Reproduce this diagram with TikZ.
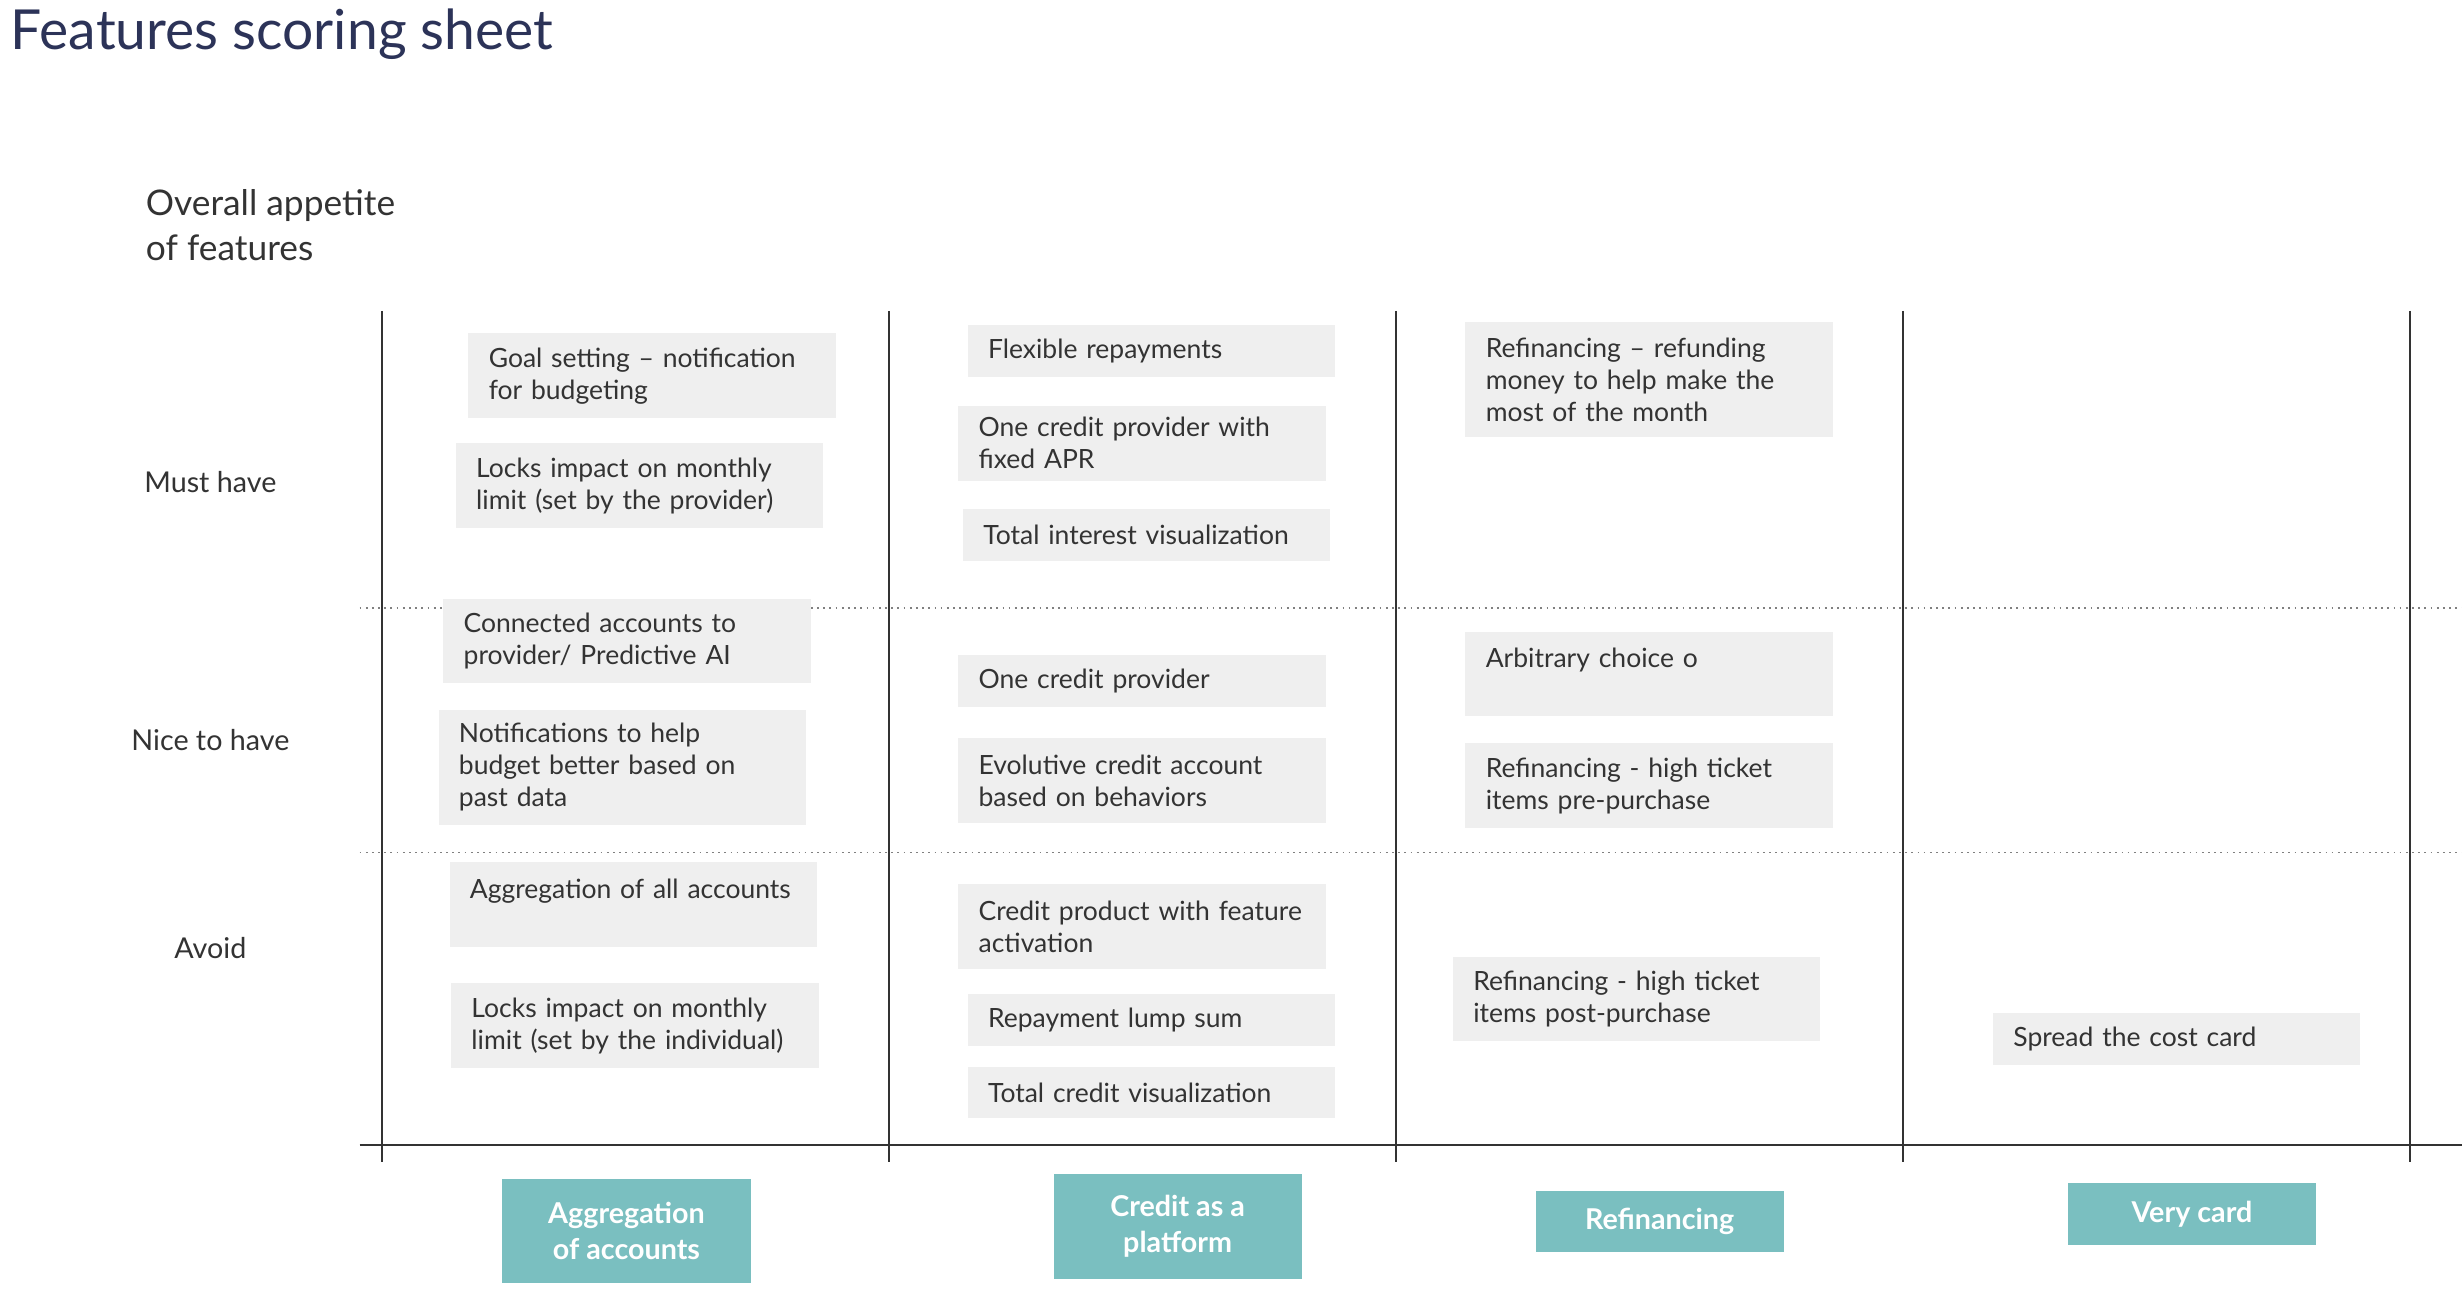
\documentclass[tikz,border=0pt]{standalone}
\usepackage{fontspec}
\setmainfont{Lato}
\usepackage{xcolor}
\usetikzlibrary{positioning}
\definecolor{cardgray}{HTML}{EFEFEF}
\definecolor{teal}{HTML}{7ABFC0}
\definecolor{inkgray}{HTML}{333333}
\definecolor{titleblue}{HTML}{2C3358}

\begin{document}
\begin{tikzpicture}[
      x=0.025cm, y=-0.025cm,
      card/.style={rectangle, fill=cardgray, anchor=north west, text width=5.2cm, minimum width=5.85cm, inner xsep=0.32cm, inner ysep=0.1cm, align=left, text=inkgray, font=\fontsize{12}{14.5}\selectfont},
      tab/.style={rectangle, fill=teal, text=white, minimum width=3.95cm, align=center, font=\fontsize{13}{16}\selectfont\bfseries},
      rowlabel/.style={text=inkgray, font=\fontsize{13}{16}\selectfont},
      grid/.style={line width=0.9pt, draw=inkgray},
      sep/.style={dotted, line width=0.8pt, draw=gray}
    ]
      \useasboundingbox (0,0) rectangle (1568,836);
      \node [anchor=west, text=titleblue, font=\fontsize{25}{30}\selectfont] (title) at (2,22) {Features scoring sheet};
      \node [anchor=north west, align=left, text=inkgray, font=\fontsize{16}{20}\selectfont] (appetite) at (88,116) {Overall appetite\\of features};

      % grid
      \foreach \x in {243,566,889,1212,1535}
        \draw [grid] (\x,198) -- (\x,740);
      \draw [grid] (229,729) -- (1568,729);
      \draw [sep] (229,387) -- (1568,387);
      \draw [sep] (229,543) -- (1568,543);

      \node [rowlabel] (must) at (134,307) {Must have};
      \node [rowlabel] (nice) at (134,471) {Nice to have};
      \node [rowlabel] (avoid) at (134,604) {Avoid};

      % aggregation of accounts
      \node [card, minimum height=1.35cm] (goal) at (298,212) {Goal setting – notification\\for budgeting};
      \node [card, minimum height=1.35cm] (lockprov) at (290,282) {Locks impact on monthly\\limit (set by the provider)};
      \node [card, minimum height=1.35cm] (connected) at (282,381) {Connected accounts to\\provider/ Predictive AI};
      \node [card, minimum height=1.825cm] (notif) at (279,452) {Notifications to help\\budget better based on\\past data};
      \node [card, minimum height=1.35cm] (aggall) at (286,549) {Aggregation of all accounts\\\phantom{x}};
      \node [card, minimum height=1.35cm] (lockind) at (287,626) {Locks impact on monthly\\limit (set by the individual)};

      % credit as a platform
      \node [card, minimum height=0.825cm] (flex) at (616,207) {Flexible repayments};
      \node [card, minimum height=1.2cm] (oneapr) at (610,258) {One credit provider with\\fixed APR};
      \node [card, minimum height=0.825cm] (interest) at (613,324) {Total\ interest visualization};
      \node [card, minimum height=0.825cm] (oneprov) at (610,417) {One credit provider};
      \node [card, minimum height=1.35cm] (evol) at (610,470) {Evolutive credit account\\based on behaviors};
      \node [card, minimum height=1.35cm] (product) at (610,563) {Credit product with feature\\activation};
      \node [card, minimum height=0.825cm] (lump) at (616,633) {Repayment lump sum};
      \node [card, minimum height=0.825cm] (creditvis) at (616,679) {Total\ credit visualization};

      % refinancing
      \node [card, minimum height=1.825cm] (refund) at (933,205) {Refinancing – refunding\\money to help make the\\most of the month};
      \node [card, minimum height=1.35cm] (arbitrary) at (933,402) {Arbitrary choice o\\\phantom{x}};
      \node [card, minimum height=1.35cm] (prepurch) at (933,473) {Refinancing - high ticket\\items pre-purchase};
      \node [card, minimum height=1.35cm] (postpurch) at (925,609) {Refinancing - high ticket\\items post-purchase};

      % very card
      \node [card, minimum height=0.825cm] (spread) at (1269,645) {Spread the cost card};

      % column tabs
      \node [tab, minimum height=1.65cm] (tabagg) at (399,784) {Aggregation\\of accounts};
      \node [tab, minimum height=1.68cm] (tabcredit) at (750,781) {Credit as a\\platform};
      \node [tab, minimum height=0.98cm] (tabrefi) at (1057,778) {Refinancing};
      \node [tab, minimum height=0.98cm] (tabvery) at (1396,773) {Very card};
    \end{tikzpicture}
\end{document}
